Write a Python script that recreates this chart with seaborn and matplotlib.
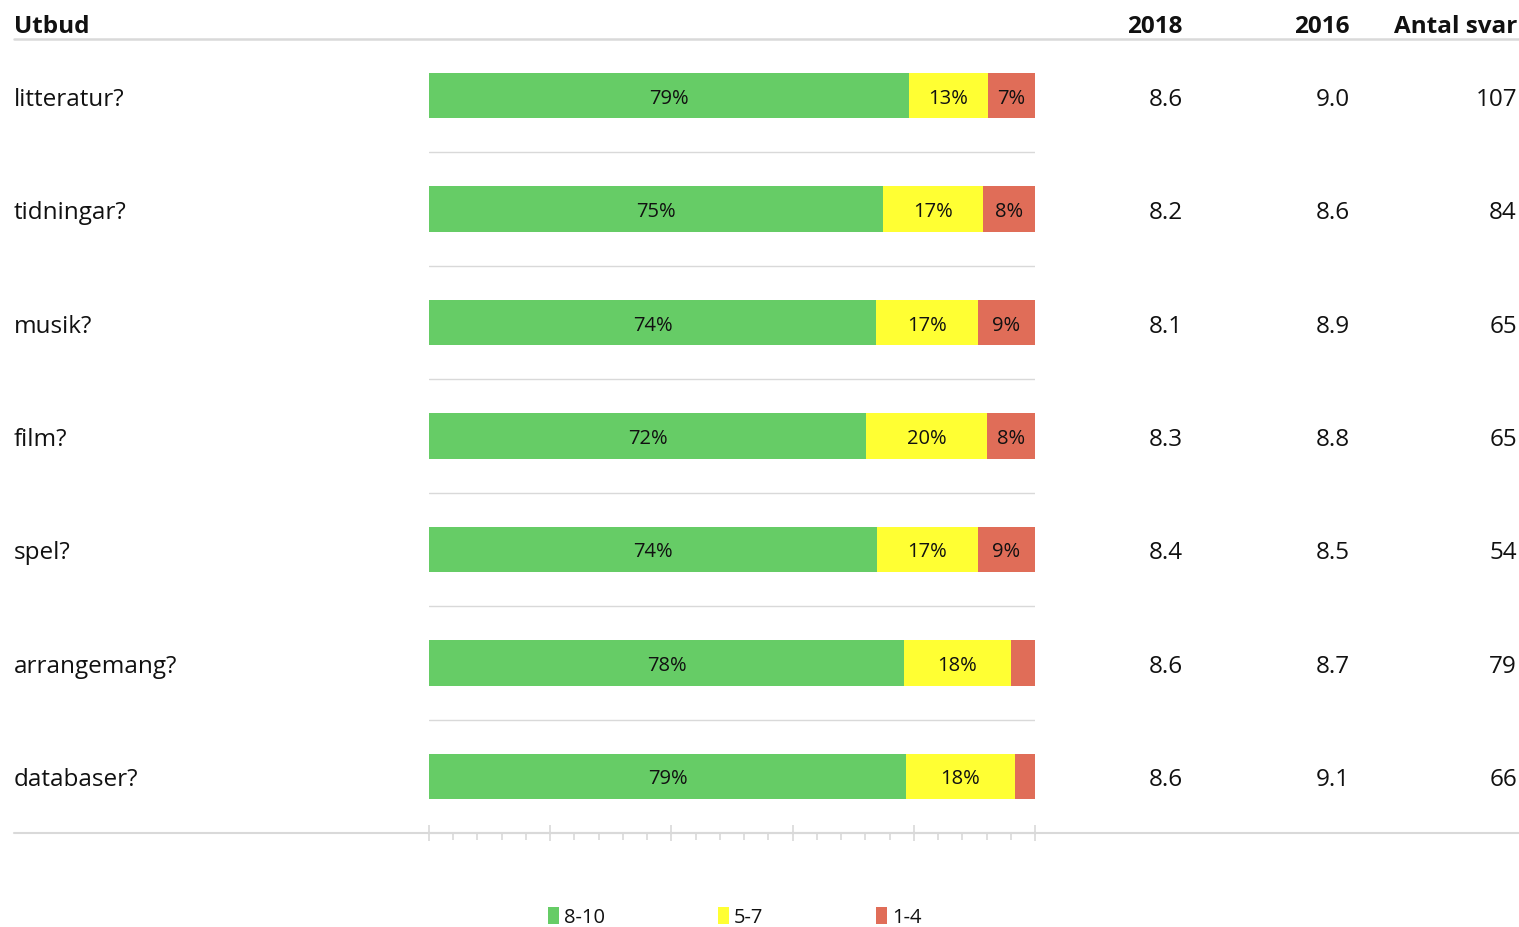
import numpy as np
import pandas as pd
import matplotlib
matplotlib.use("Agg")
import matplotlib.pyplot as plt
import matplotlib.transforms as mtransforms
from matplotlib.lines import Line2D
from matplotlib.patches import Patch
import seaborn as sns

# ---- data ----
categories = ["litteratur?", "tidningar?", "musik?", "film?", "spel?", "arrangemang?", "databaser?"]
high = [79.2, 74.9, 73.8, 72.1, 73.9, 78.4, 78.7]      # 8-10
mid = [13.0, 16.5, 16.8, 20.0, 16.7, 17.6, 18.0]        # 5-7
low = [7.8, 8.6, 9.4, 7.9, 9.4, 4.0, 3.3]               # 1-4
high_lbl = ["79%", "75%", "74%", "72%", "74%", "78%", "79%"]
mid_lbl = ["13%", "17%", "17%", "20%", "17%", "18%", "18%"]
low_lbl = ["7%", "8%", "9%", "8%", "9%", "", ""]
score_2018 = ["8.6", "8.2", "8.1", "8.3", "8.4", "8.6", "8.6"]
score_2016 = ["9.0", "8.6", "8.9", "8.8", "8.5", "8.7", "9.1"]
antal = ["107", "84", "65", "65", "54", "79", "66"]
legend_labels = ["8-10", "5-7", "1-4"]
headers = ["Utbud", "2018", "2016", "Antal svar"]

GREEN = "#66cc66"
YELLOW = "#ffff33"
RED = "#e06d58"
GRID = "#d9d9d9"
TXT = "#111111"

sns.set_theme(style="white")
plt.rcParams["font.family"] = ["Open Sans", "DejaVu Sans"]

W, H = 1519, 928
ROW = (834 - 40) / 7.0
fig = plt.figure(figsize=(W / 100, H / 100), dpi=100)
ax = fig.add_axes([429 / W, 1 - 834 / H, (1035 - 429) / W, (834 - 40) / H])

df = pd.DataFrame({"cat": categories, "high": high, "mid": mid, "low": low})
df["c2"] = df["high"] + df["mid"]
df["c3"] = df["c2"] + df["low"]

sns.barplot(data=df, x="c3", y="cat", color=RED, orient="h", width=0.4,
            saturation=1, ax=ax, linewidth=0)
sns.barplot(data=df, x="c2", y="cat", color=YELLOW, orient="h", width=0.4,
            saturation=1, ax=ax, linewidth=0)
sns.barplot(data=df, x="high", y="cat", color=GREEN, orient="h", width=0.4,
            saturation=1, ax=ax, linewidth=0)

ax.set_xlim(0, 100)
ax.set_ylim(len(categories) - 0.5, -0.5)
ax.set_xlabel("")
ax.set_ylabel("")
ax.set_yticks([])
ax.set_xticks(np.arange(0, 101, 20))
ax.set_xticks(np.arange(0, 101, 4), minor=True)
ax.set_xticklabels([])
ax.tick_params(axis="x", which="major", direction="inout", length=12, width=1.2,
               color=GRID, bottom=True)
ax.tick_params(axis="x", which="minor", direction="out", length=5, width=1.2,
               color=GRID, bottom=True)
for s in ["top", "left", "right"]:
    ax.spines[s].set_visible(False)
ax.spines["bottom"].set_color(GRID)
ax.spines["bottom"].set_linewidth(1.5)

for i in range(len(categories) - 1):
    ax.axhline(i + 0.5, color=GRID, lw=1, zorder=0)

# segment labels (baseline ~7px below row centre)
pb = 7 / ROW
for i in range(len(categories)):
    h, m, l = high[i], mid[i], low[i]
    ax.text(h / 2, i + pb, high_lbl[i], ha="center", va="baseline", fontsize=14.5, color=TXT)
    ax.text(h + m / 2, i + pb, mid_lbl[i], ha="center", va="baseline", fontsize=14.5, color=TXT)
    if low_lbl[i]:
        ax.text(h + m + l / 2, i + pb, low_lbl[i], ha="center", va="baseline", fontsize=14.5, color=TXT)

# left labels and right columns (baseline ~9px below row centre)
tb = 9 / ROW
tr = mtransforms.blended_transform_factory(fig.transFigure, ax.transData)
for i, c in enumerate(categories):
    ax.text(14 / W, i + tb, c, transform=tr, ha="left", va="baseline", fontsize=17.5, color=TXT)
    ax.text(1183 / W, i + tb, score_2018[i], transform=tr, ha="right", va="baseline", fontsize=17.5, color=TXT)
    ax.text(1350 / W, i + tb, score_2016[i], transform=tr, ha="right", va="baseline", fontsize=17.5, color=TXT)
    ax.text(1517 / W, i + tb, antal[i], transform=tr, ha="right", va="baseline", fontsize=17.5, color=TXT)

# headers
hy = 1 - 33 / H
fig.text(14 / W, hy, headers[0], ha="left", va="baseline", fontsize=17.5, fontweight="bold", color=TXT)
fig.text(1183 / W, hy, headers[1], ha="right", va="baseline", fontsize=17.5, fontweight="bold", color=TXT)
fig.text(1350 / W, hy, headers[2], ha="right", va="baseline", fontsize=17.5, fontweight="bold", color=TXT)
fig.text(1517 / W, hy, headers[3], ha="right", va="baseline", fontsize=17.5, fontweight="bold", color=TXT)

# full-width rules
fig.add_artist(Line2D([14 / W, 1], [1 - 40 / H, 1 - 40 / H], color=GRID, lw=1.8))
fig.add_artist(Line2D([14 / W, 1], [1 - 834 / H, 1 - 834 / H], color=GRID, lw=1.5))

# legend
handles = [Patch(facecolor=c, edgecolor="none") for c in [GREEN, YELLOW, RED]]
fig.legend(handles, legend_labels, loc="center", bbox_to_anchor=(735 / W, 1 - 918 / H),
           ncol=3, frameon=False, fontsize=14.5, handlelength=0.55, handleheight=0.95,
           handletextpad=0.25, columnspacing=5.6, borderpad=0, labelcolor=TXT)

fig.savefig("out.png", dpi=100)
